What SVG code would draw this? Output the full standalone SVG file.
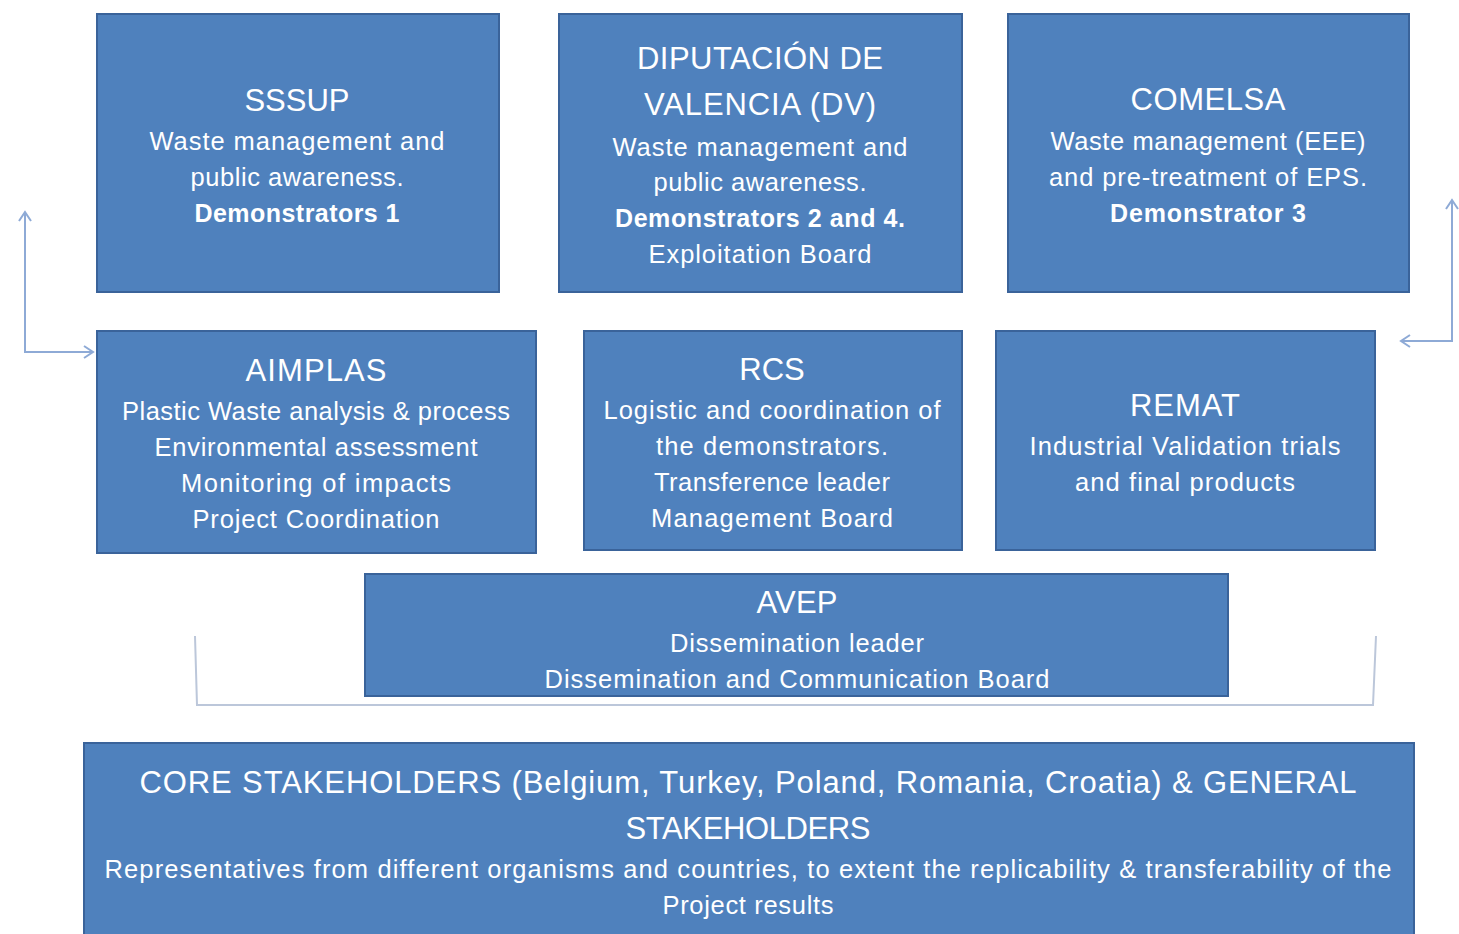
<svg xmlns="http://www.w3.org/2000/svg" width="1459" height="934" viewBox="0 0 1459 934">
<style>
.box{fill:#4f81bd;stroke:#3a639a;stroke-width:2}
text{fill:#ffffff;font-family:"Liberation Sans","Open Sans",sans-serif;text-anchor:middle}
.t{font-size:31px}
.b{font-size:25.5px}
.bb{font-size:25px;font-weight:bold}
.conn{fill:none;stroke:#8eaad6;stroke-width:2}
.br{fill:none;stroke:#bcc7da;stroke-width:2}
</style>
<defs>
<marker id="ah" markerWidth="14" markerHeight="14" refX="10" refY="7" orient="auto-start-reverse" markerUnits="userSpaceOnUse">
<path d="M1,1 L10,7 L1,13" fill="none" stroke="#8eaad6" stroke-width="2"/>
</marker>
</defs>
<rect width="1459" height="934" fill="#ffffff"/>
<g id="connectors">
<path class="conn" d="M25,212 L25,352 L93,352" marker-start="url(#ah)" marker-end="url(#ah)"/>
<path class="conn" d="M1452,200 L1452,341 L1401,341" marker-start="url(#ah)" marker-end="url(#ah)"/>
<path class="br" d="M195,636 L197,705 L1373,705 L1376,636"/>
</g>
<g id="sssup">
<rect class="box" x="97" y="14" width="402" height="278"/>
<text class="t" x="297" y="111">SSSUP</text>
<text class="b" x="297" y="150" textLength="295">Waste management and</text>
<text class="b" x="297" y="186" textLength="213">public awareness.</text>
<text class="bb" x="297" y="222" textLength="205">Demonstrators 1</text>
</g>
<g id="dv">
<rect class="box" x="559" y="14" width="403" height="278"/>
<text class="t" x="760" y="69" textLength="246">DIPUTACIÓN DE</text>
<text class="t" x="760" y="115" textLength="232">VALENCIA (DV)</text>
<text class="b" x="760" y="156" textLength="295">Waste management and</text>
<text class="b" x="760" y="191" textLength="213">public awareness.</text>
<text class="bb" x="760" y="227" textLength="290">Demonstrators 2 and 4.</text>
<text class="b" x="760" y="263" textLength="223">Exploitation Board</text>
</g>
<g id="comelsa">
<rect class="box" x="1008" y="14" width="401" height="278"/>
<text class="t" x="1208" y="110" textLength="155">COMELSA</text>
<text class="b" x="1208" y="150" textLength="315">Waste management (EEE)</text>
<text class="b" x="1208" y="186" textLength="318">and pre-treatment of EPS.</text>
<text class="bb" x="1208" y="222" textLength="196">Demonstrator 3</text>
</g>
<g id="aimplas">
<rect class="box" x="97" y="331" width="439" height="222"/>
<text class="t" x="316" y="381" textLength="141">AIMPLAS</text>
<text class="b" x="316" y="420" textLength="388">Plastic Waste analysis &amp; process</text>
<text class="b" x="316" y="456" textLength="323">Environmental assessment</text>
<text class="b" x="316" y="492" textLength="270">Monitoring of impacts</text>
<text class="b" x="316" y="528" textLength="247">Project Coordination</text>
</g>
<g id="rcs">
<rect class="box" x="584" y="331" width="378" height="219"/>
<text class="t" x="772" y="380">RCS</text>
<text class="b" x="772" y="419" textLength="337">Logistic and coordination of</text>
<text class="b" x="772" y="455" textLength="232">the demonstrators.</text>
<text class="b" x="772" y="491" textLength="236">Transference leader</text>
<text class="b" x="772" y="527" textLength="242">Management Board</text>
</g>
<g id="remat">
<rect class="box" x="996" y="331" width="379" height="219"/>
<text class="t" x="1185" y="416" textLength="110">REMAT</text>
<text class="b" x="1185" y="455" textLength="311">Industrial Validation trials</text>
<text class="b" x="1185" y="491" textLength="220">and final products</text>
</g>
<g id="avep">
<rect class="box" x="365" y="574" width="863" height="122"/>
<text class="t" x="797" y="613" textLength="81">AVEP</text>
<text class="b" x="797" y="652" textLength="254">Dissemination leader</text>
<text class="b" x="797" y="688" textLength="505">Dissemination and Communication Board</text>
</g>
<g id="core">
<rect class="box" x="84" y="743" width="1330" height="200"/>
<text class="t" x="748" y="793" textLength="1217">CORE STAKEHOLDERS (Belgium, Turkey, Poland, Romania, Croatia) &amp; GENERAL</text>
<text class="t" x="748" y="839" textLength="245">STAKEHOLDERS</text>
<text class="b" x="748" y="878" textLength="1287">Representatives from different organisms and countries, to extent the replicability &amp; transferability of the</text>
<text class="b" x="748" y="914" textLength="171">Project results</text>
</g>
</svg>
